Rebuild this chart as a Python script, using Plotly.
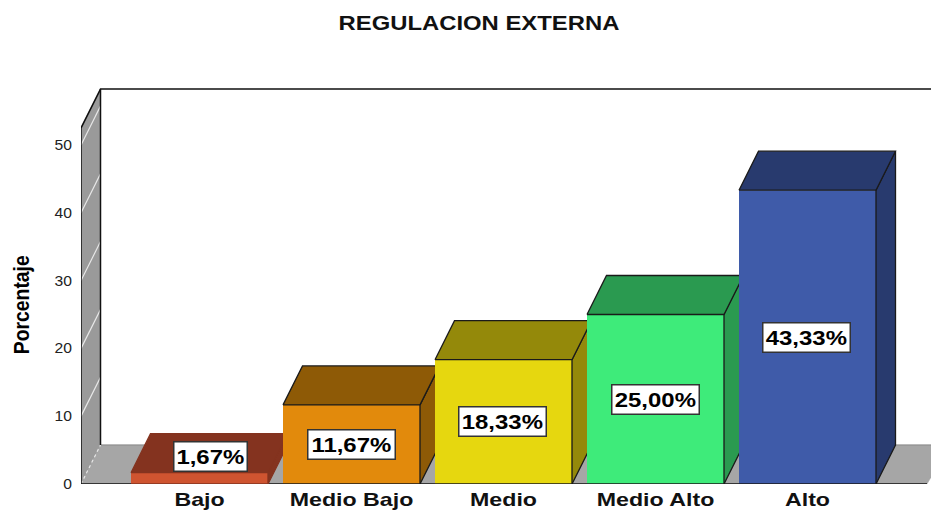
import plotly.graph_objects as go

categories = ["Bajo", "Medio Bajo", "Medio", "Medio Alto", "Alto"]
values = [1.67, 11.67, 18.33, 25.00, 43.33]
labels = ["1,67%", "11,67%", "18,33%", "25,00%", "43,33%"]
y_ticks = [0, 10, 20, 30, 40, 50]
front_colors = ["#CF5430", "#E28A0C", "#E6D70F", "#3EEB7A", "#3F5BA9"]
shade_colors = ["#84331F", "#8E5A06", "#94890A", "#2A9A50", "#283A6E"]
edge_colors = ["#84331F", "#1a1a1a", "#1a1a1a", "#1a1a1a", "#1a1a1a"]

W, H = 931, 512
L, R, T, B = 81, 0, 88, 28
PX_PER_CAT = 152.0
PX_PER_UNIT = 6.78
X0 = -(199.5 - L) / PX_PER_CAT
X1 = X0 + (W - L - R) / PX_PER_CAT
Y1 = (H - B - T) / PX_PER_UNIT
DX = 19.5 / PX_PER_CAT
DY = 39 / PX_PER_UNIT
BAR_W = 137 / PX_PER_CAT
WALL_TOP = 52.5
FLOOR_END = X0 + (927 - L) / PX_PER_CAT
WALL_GREY = "#9A9A9A"
FLOOR_GREY = "#A6A6A6"
INK = "#111111"


def poly(xs, ys, fill, line=None, width=1.3):
    return go.Scatter(
        x=xs, y=ys, mode="lines", fill="toself", fillcolor=fill,
        line=dict(color=line or fill, width=width), hoverinfo="skip",
        showlegend=False, cliponaxis=False,
    )


def seg(xs, ys, color=INK, width=1.5, dash="solid"):
    return go.Scatter(
        x=xs, y=ys, mode="lines", line=dict(color=color, width=width, dash=dash),
        hoverinfo="skip", showlegend=False, cliponaxis=False,
    )


fig = go.Figure()

# floor and side wall
fig.add_trace(poly([X0, X0 + DX, X1 + DX, FLOOR_END], [0, DY, DY, 0], FLOOR_GREY, width=0.5))
fig.add_trace(seg([X0 + DX, X1], [DY, DY], "#8A8A8A", 1.2))
fig.add_trace(poly([X0, X0 + DX, X0 + DX, X0], [0, DY, WALL_TOP + DY, WALL_TOP], WALL_GREY, width=0.5))
for t in y_ticks[1:]:
    fig.add_trace(seg([X0, X0 + DX], [t, t + DY], "#E8E8E8", 1.2))
fig.add_trace(seg([X0, X0 + DX], [0, DY], "#E8E8E8", 1.2, "dot"))

# wall outlines
fig.add_trace(seg([X0, X0, X0 + DX, X1], [0, WALL_TOP, WALL_TOP + DY, WALL_TOP + DY]))
fig.add_trace(seg([X0 + DX, X0 + DX], [DY, WALL_TOP + DY]))
fig.add_trace(seg([X0, FLOOR_END], [0, 0]))

# 3-D bars, painted left to right so each front hides its neighbour's side
for i, v in enumerate(values):
    xl, xr = i - BAR_W / 2, i + BAR_W / 2
    fig.add_trace(poly([xr, xr + DX, xr + DX, xr], [0, DY, v + DY, v], shade_colors[i], edge_colors[i]))
    fig.add_trace(poly([xl, xl + DX, xr + DX, xr], [v, v + DY, v + DY, v], shade_colors[i], edge_colors[i]))
    fig.add_trace(poly([xl, xr, xr, xl], [0, 0, v, v], front_colors[i], edge_colors[i]))

label_x_shift = [0.07, 0, -0.005, 0, -0.005]
for i, v in enumerate(values):
    fig.add_annotation(
        x=i + label_x_shift[i], y=max(v / 2, 4.0), text=labels[i], showarrow=False,
        font=dict(family="Liberation Sans", size=21, color="#000000", weight="bold"),
        bgcolor="#FFFFFF", bordercolor="#333333", borderwidth=1.5, borderpad=1,
        width=len(labels[i]) * 14, height=26, align="center", valign="middle",
    )

fig.add_annotation(
    xref="paper", yref="paper", x=(21 - L) / (W - L - R), y=(H - B - 305) / (H - B - T),
    text="Porcentaje", textangle=-90, showarrow=False, xanchor="center", yanchor="middle",
    font=dict(family="Liberation Sans", size=22, color="#000000", weight="bold"),
)

fig.update_layout(
    width=W, height=H, margin=dict(l=L, r=R, t=T, b=B), autosize=False,
    paper_bgcolor="#FFFFFF", plot_bgcolor="#FFFFFF", showlegend=False,
    title=dict(
        text="<b>REGULACION EXTERNA</b>", x=479 / W, xanchor="center", y=1 - 23 / H, yanchor="middle",
        font=dict(family="Liberation Sans", size=21, color="#111111"),
    ),
    xaxis=dict(
        range=[X0, X1], showgrid=False, zeroline=False, showline=False, ticks="",
        tickmode="array", tickvals=list(range(len(categories))), ticktext=categories,
        ticklabelstandoff=2, automargin=False,
        tickfont=dict(family="Liberation Sans", size=19, color="#111111", weight="bold"),
    ),
    yaxis=dict(
        range=[0, Y1], showgrid=False, zeroline=False, showline=False, ticks="",
        tickmode="array", tickvals=y_ticks, ticklabelstandoff=8, automargin=False,
        tickfont=dict(family="Liberation Sans", size=14, color="#222222"),
    ),
)

# the reference's type is horizontally stretched; keep real text and widen the glyphs
post = """
document.body.style.margin = '0';
function stretch(el, k) {
  el.setAttribute('textLength', el.getComputedTextLength() * k);
  el.setAttribute('lengthAdjust', 'spacingAndGlyphs');
}
document.querySelectorAll('.xtick text').forEach(function (e) { stretch(e, 1.22); });
document.querySelectorAll('.ytick text').forEach(function (e) { stretch(e, 1.12); });
document.querySelectorAll('.gtitle').forEach(function (e) { stretch(e, 1.135); });
document.querySelectorAll('.annotation-text').forEach(function (e) {
  stretch(e, e.textContent === 'Porcentaje' ? 0.88 : 1.14);
});
"""
fig.write_html("out.html", post_script=post, config={"displayModeBar": False})
